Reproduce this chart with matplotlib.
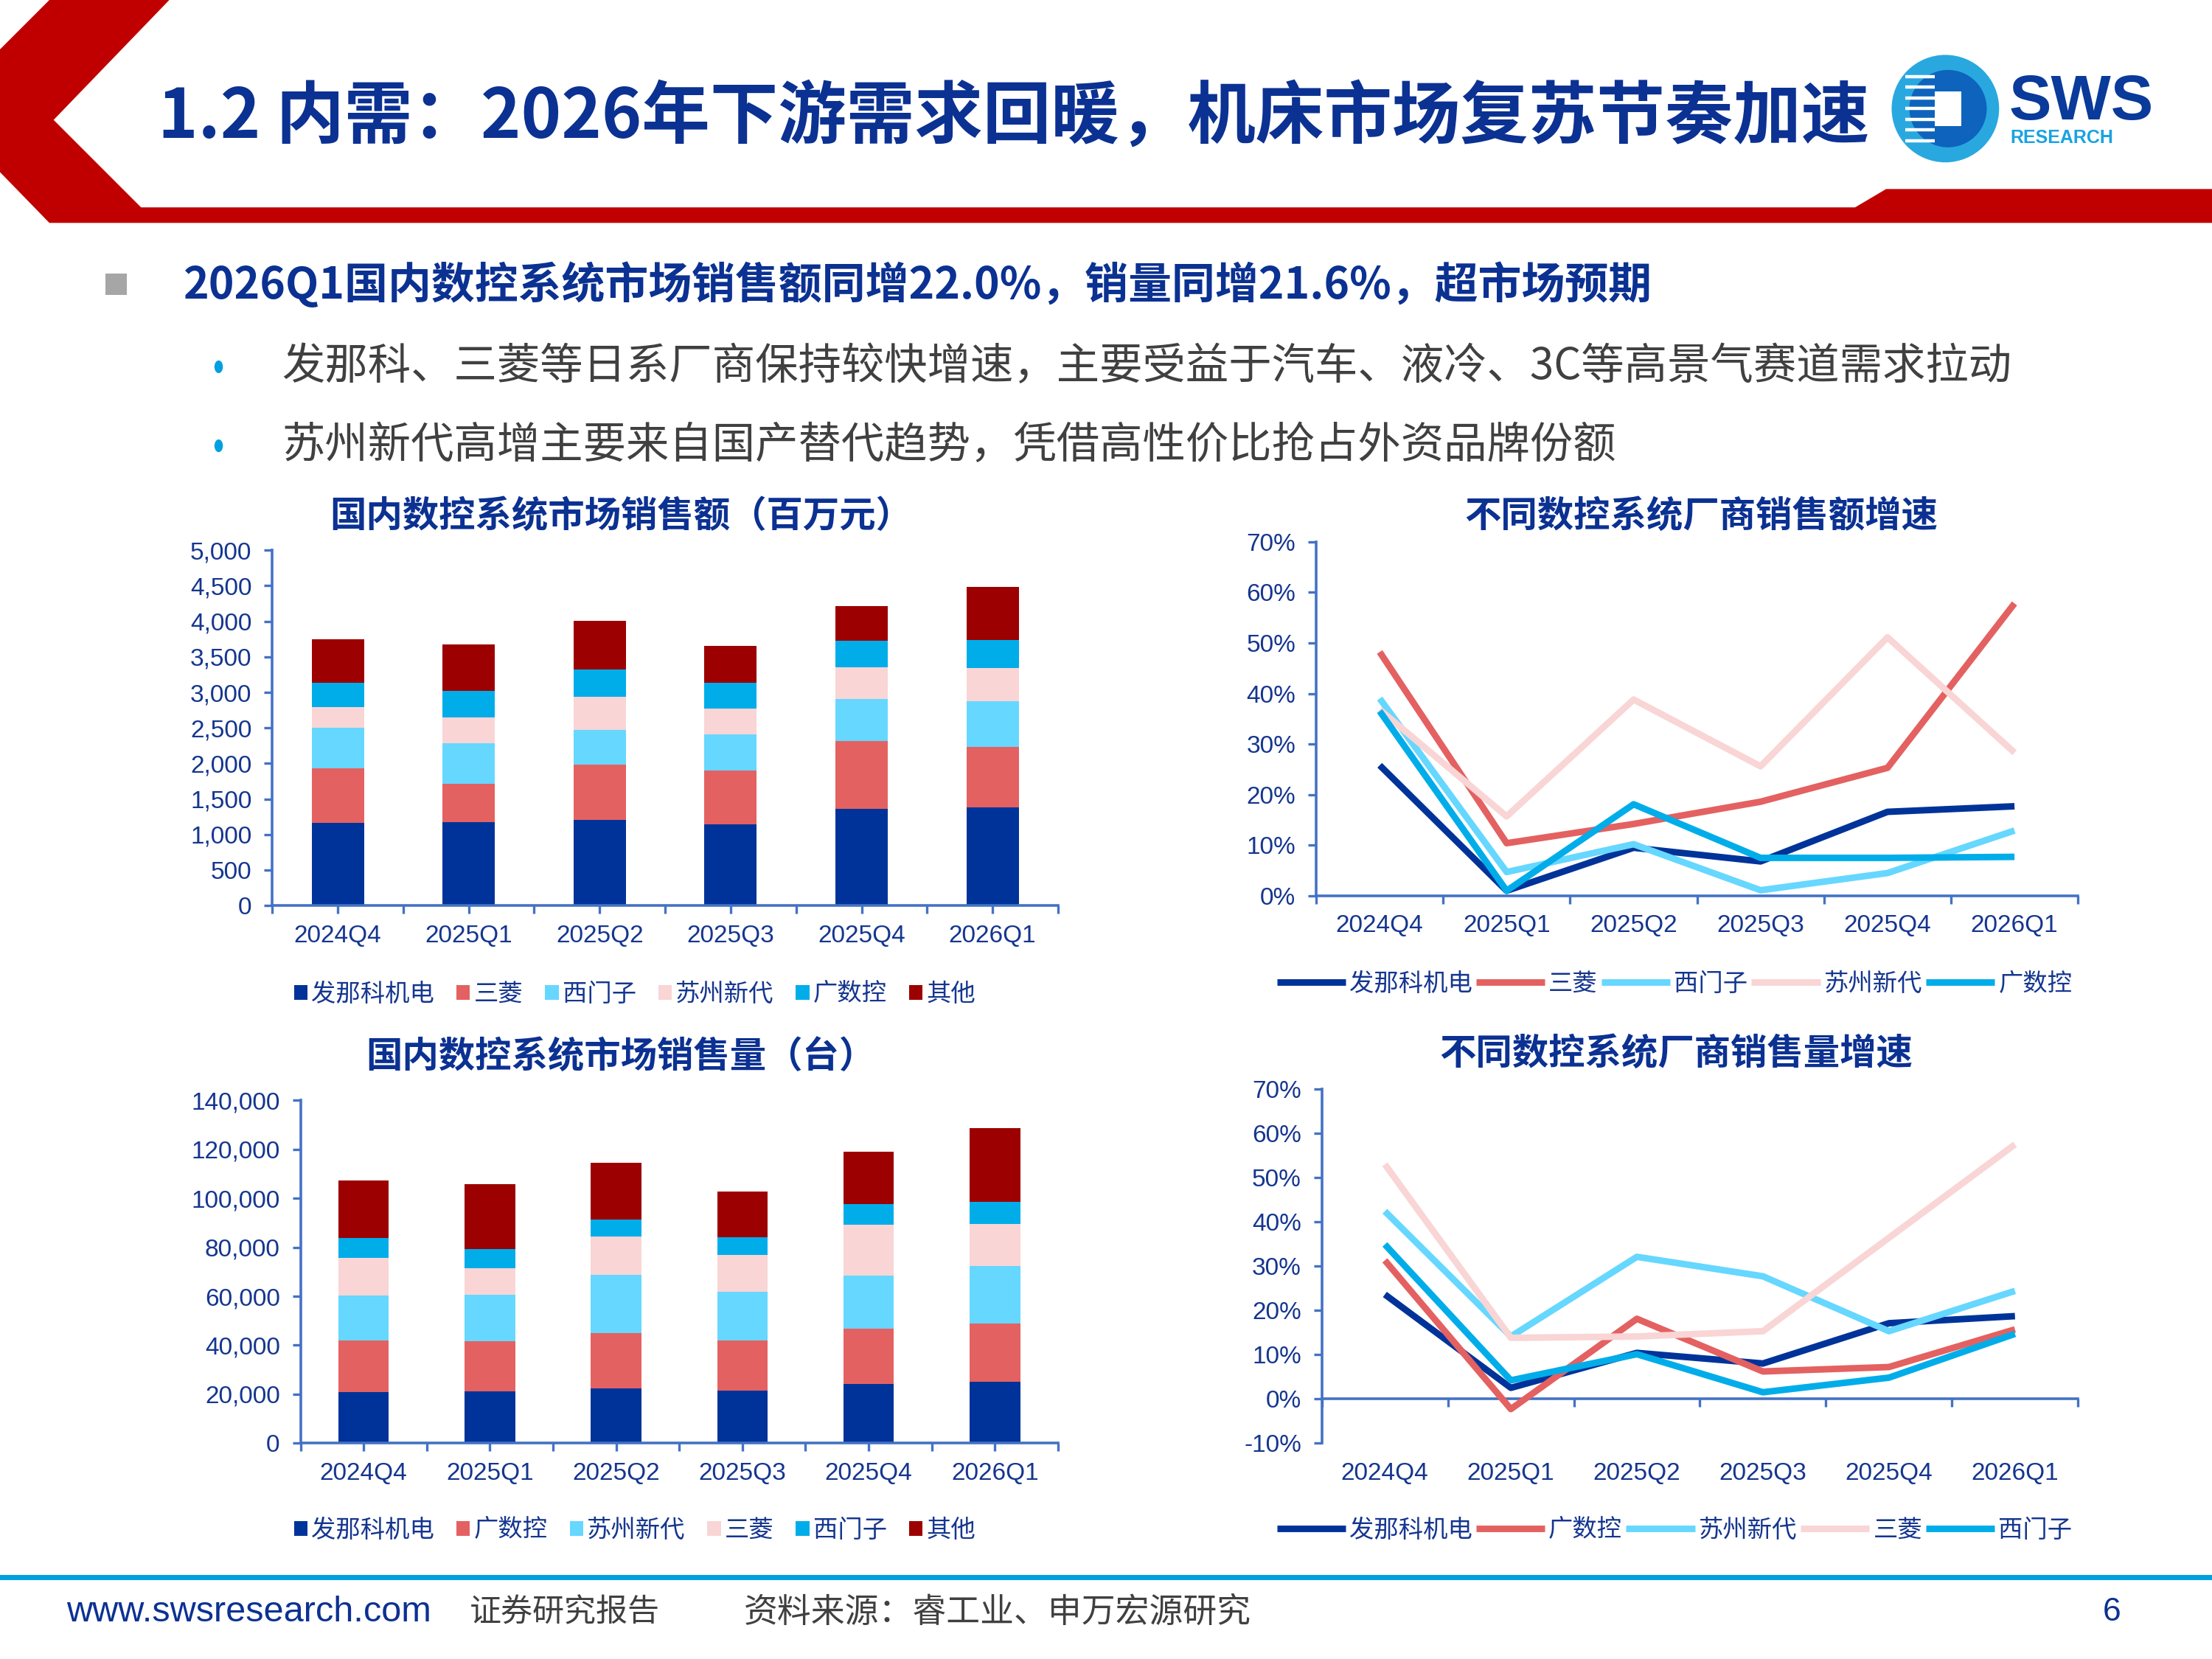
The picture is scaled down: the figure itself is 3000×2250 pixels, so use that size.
import matplotlib.pyplot as plt
from matplotlib.patches import Polygon, Rectangle, Circle, Ellipse
from matplotlib.ticker import FuncFormatter
import numpy as np

plt.rcParams['font.family'] = ['Liberation Sans', 'Noto Sans CJK SC']

quarters = ['2024Q4', '2025Q1', '2025Q2', '2025Q3', '2025Q4', '2026Q1']

# 国内数控系统市场销售额（百万元）
amt_labels = ['发那科机电', '三菱', '西门子', '苏州新代', '广数控', '其他']
amt_fanuc = [1164, 1174, 1202, 1145, 1359, 1383]
amt_mitsu = [770, 542, 780, 756, 956, 851]
amt_siemens = [571, 570, 489, 504, 594, 641]
amt_syntec = [290, 361, 471, 371, 446, 471]
amt_gsk = [337, 371, 375, 356, 367, 395]
amt_other = [613, 661, 685, 518, 494, 746]

# 国内数控系统市场销售量（台）
vol_labels = ['发那科机电', '广数控', '苏州新代', '三菱', '西门子', '其他']
vol_fanuc = [20800, 21200, 22400, 21500, 24200, 25200]
vol_gsk = [21000, 20500, 22400, 20500, 22700, 23800]
vol_syntec = [18500, 18800, 23800, 19800, 21400, 23500]
vol_mitsu = [15300, 11000, 15700, 15100, 21000, 17000]
vol_siemens = [8100, 7800, 7100, 7300, 8400, 9100]
vol_other = [23500, 26400, 23000, 18700, 21400, 30100]

# 不同数控系统厂商销售额增速（%）
amtg_labels = ['发那科机电', '三菱', '西门子', '苏州新代', '广数控']
amtg_fanuc = [25.8, 1.0, 9.5, 6.8, 16.6, 17.7]
amtg_mitsu = [48.2, 10.4, 14.2, 18.6, 25.3, 57.8]
amtg_siemens = [39.0, 4.7, 10.2, 1.1, 4.5, 12.9]
amtg_syntec = [36.8, 15.7, 38.8, 25.6, 51.1, 28.3]
amtg_gsk = [36.5, 1.0, 18.1, 7.5, 7.5, 7.7]

# 不同数控系统厂商销售量增速（%）
volg_labels = ['发那科机电', '广数控', '苏州新代', '三菱', '西门子']
volg_fanuc = [23.6, 2.5, 10.4, 8.0, 17.1, 18.7]
volg_gsk = [31.3, -2.3, 18.1, 6.2, 7.2, 15.7]
volg_syntec = [42.4, 14.1, 32.1, 27.7, 15.3, 24.4]
volg_mitsu = [53.0, 13.8, 14.1, 15.3, 36.4, 57.5]
volg_siemens = [34.9, 4.2, 10.1, 1.5, 4.8, 14.7]

colors = ['#003399', '#E46161', '#66D7FF', '#F9D5D5', '#00ADE9', '#9C0000']
navy = '#0b3192'
tick_c = '#15368f'
spine_c = '#4472C4'
W, H = 1568, 1176


def fx(px):
    return px / W


def fy(py):
    return 1 - py / H


fig = plt.figure(figsize=(15, 11.25), dpi=200)

# slide background: header, bullets, footer
bg = fig.add_axes([0, 0, 1, 1])
bg.set_xlim(0, W)
bg.set_ylim(H, 0)
bg.axis('off')
bg.add_patch(Polygon([(35, 0), (120, 0), (38, 85), (100, 147), (1315, 147), (1337, 134),
                      (1568, 134), (1568, 158), (35, 158), (0, 122), (0, 35)],
                     closed=True, color='#C00000', lw=0))
bg.text(112, 84, '1.2 内需：2026年下游需求回暖，机床市场复苏节奏加速', fontsize=33.3,
        fontweight='bold', color=navy, va='center', ha='left', family=['Noto Sans CJK SC'])
bg.add_patch(Rectangle((75, 194), 15, 15, color='#A6A6A6', lw=0))
bg.text(130, 202, '2026Q1国内数控系统市场销售额同增22.0%，销量同增21.6%，超市场预期',
        fontsize=21.2, fontweight='bold', color=navy, va='center', family=['Noto Sans CJK SC'])
bullets = ['发那科、三菱等日系厂商保持较快增速，主要受益于汽车、液冷、3C等高景气赛道需求拉动',
           '苏州新代高增主要来自国产替代趋势，凭借高性价比抢占外资品牌份额']
for i, b in enumerate(bullets):
    yy = 260 + i * 56
    bg.add_patch(Ellipse((155, yy), 6, 9, color='#00A0E0', lw=0))
    bg.text(200, yy, b, fontsize=21, color='#404040', va='center', family=['Noto Sans CJK SC'])
bg.add_patch(Rectangle((0, 1116.5), W, 3.5, color='#00A0DF', lw=0))
bg.text(47, 1143, 'www.swsresearch.com', fontsize=17.5, color=navy, va='center')
bg.text(333, 1143, '证券研究报告', fontsize=15.5, color='#404040', va='center',
        family=['Noto Sans CJK SC'])
bg.text(527, 1143, '资料来源：睿工业、申万宏源研究', fontsize=16.5, color='#404040', va='center',
        family=['Noto Sans CJK SC'])
bg.text(1497, 1143, '6', fontsize=16, color=navy, va='center', ha='center')

# logo
lg = fig.add_axes([fx(1338), fy(117), fx(82), 80 / H])
lg.set_xlim(-1.05, 1.05)
lg.set_ylim(-1.05, 1.05)
lg.set_aspect('equal')
lg.axis('off')
lg.add_patch(Circle((0, 0), 1.0, color='#29A8E0', lw=0))
lg.add_patch(Circle((0.05, 0), 0.72, color='#0E63BC', lw=0))
for k in range(7):
    yk = -0.6 + k * 0.2
    lg.plot([-0.75, -0.2], [yk, yk], color='white', lw=1.6, solid_capstyle='butt')
lg.add_patch(Rectangle((-0.2, -0.32), 0.5, 0.64, color='white', lw=0))
bg.text(1424, 73, 'SWS', fontsize=31, fontweight='bold', color='#0A3A9A', va='center')
bg.text(1425, 98, 'RESEARCH', fontsize=9, fontweight='bold', color='#1AA3E0', va='center')

x = np.arange(len(quarters))


def style_axes(ax):
    for s in ['top', 'right']:
        ax.spines[s].set_visible(False)
    for s in ['left', 'bottom']:
        ax.spines[s].set_color(spine_c)
        ax.spines[s].set_linewidth(1.3)
    ax.tick_params(axis='both', which='both', direction='out', color=spine_c, width=1.2,
                   length=4, labelsize=12, labelcolor=tick_c)
    ax.tick_params(axis='y', pad=6)
    ax.set_xlim(-0.5, 5.5)
    ax.set_xticks(x)
    ax.set_xticklabels(quarters)
    ax.set_xticks(np.arange(-0.5, 6, 1), minor=True)


def bar_panel(rect, series, labels, ymax, ystep, pad):
    ax = fig.add_axes(rect)
    bottom = np.zeros(len(quarters))
    for vals, lab, col in zip(series, labels, colors):
        ax.bar(x, vals, 0.4, bottom=bottom, color=col, label=lab, lw=0)
        bottom += np.array(vals)
    style_axes(ax)
    ax.set_ylim(0, ymax)
    ax.set_yticks(np.arange(0, ymax + 1, ystep))
    ax.yaxis.set_major_formatter(FuncFormatter(lambda v, p: f'{v:,.0f}'))
    ax.tick_params(axis='x', pad=pad)
    return ax


def line_panel(rect, series, labels, ymin, pad):
    ax = fig.add_axes(rect)
    for vals, lab, col in zip(series, labels, colors):
        ax.plot(x, vals, color=col, lw=3.2, label=lab, solid_capstyle='butt')
    style_axes(ax)
    ax.set_ylim(ymin, 70)
    ax.set_yticks(np.arange(ymin, 71, 10))
    ax.yaxis.set_major_formatter(FuncFormatter(lambda v, p: f'{v:.0f}%'))
    ax.tick_params(axis='x', which='major', length=0, pad=pad)
    return ax


ax1 = bar_panel([fx(193), fy(642), fx(750) - fx(193), (642 - 390) / H],
                [amt_fanuc, amt_mitsu, amt_siemens, amt_syntec, amt_gsk, amt_other],
                amt_labels, 5000, 500, 5.2)
ax3 = bar_panel([fx(213), fy(1023), fx(750) - fx(213), (1023 - 780) / H],
                [vol_fanuc, vol_gsk, vol_syntec, vol_mitsu, vol_siemens, vol_other],
                vol_labels, 140000, 20000, 5.2)
ax2 = line_panel([fx(933), fy(635), fx(1473) - fx(933), (635 - 384) / H],
                 [amtg_fanuc, amtg_mitsu, amtg_siemens, amtg_syntec, amtg_gsk],
                 amtg_labels, 0, 9.2)
ax4 = line_panel([fx(937), fy(1023), fx(1473) - fx(937), (1023 - 772) / H],
                 [volg_fanuc, volg_gsk, volg_syntec, volg_mitsu, volg_siemens],
                 volg_labels, -10, 9.2)

# zero line with boundary ticks for the volume growth chart
ax4.spines['bottom'].set_visible(False)
ax4.tick_params(axis='x', which='minor', length=0)
sec = ax4.secondary_xaxis(10 / 80)
sec.set_xticks(np.arange(-0.5, 6, 1))
sec.set_xticklabels([])
sec.spines['bottom'].set_color(spine_c)
sec.spines['bottom'].set_linewidth(1.3)
sec.tick_params(direction='out', color=spine_c, width=1.2, length=4)

for ax, tx, ty, t in [(ax1, 440, 366, '国内数控系统市场销售额（百万元）'),
                      (ax2, 1206, 366, '不同数控系统厂商销售额增速'),
                      (ax3, 440, 749, '国内数控系统市场销售量（台）'),
                      (ax4, 1188, 747, '不同数控系统厂商销售量增速')]:
    fig.text(fx(tx), fy(ty), t, fontsize=17.8, fontweight='bold', color=navy,
             ha='center', va='center', family=['Noto Sans CJK SC'])

for ax, lx, ly in [(ax1, 450, 705), (ax3, 450, 1085)]:
    ax.legend(loc='center', bbox_to_anchor=(fx(lx), fy(ly)), bbox_transform=fig.transFigure,
              ncol=6, frameon=False, fontsize=12, labelcolor=tick_c, handlelength=0.55,
              handleheight=0.55, handletextpad=0.15, columnspacing=0.9)
for ax, lx, ly in [(ax2, 1187, 698), (ax4, 1187, 1085)]:
    ax.legend(loc='center', bbox_to_anchor=(fx(lx), fy(ly)), bbox_transform=fig.transFigure,
              ncol=5, frameon=False, fontsize=12, labelcolor=tick_c, handlelength=2.8,
              handletextpad=0.15, columnspacing=0.15)

plt.savefig('out.png', dpi=200)
plt.close()
